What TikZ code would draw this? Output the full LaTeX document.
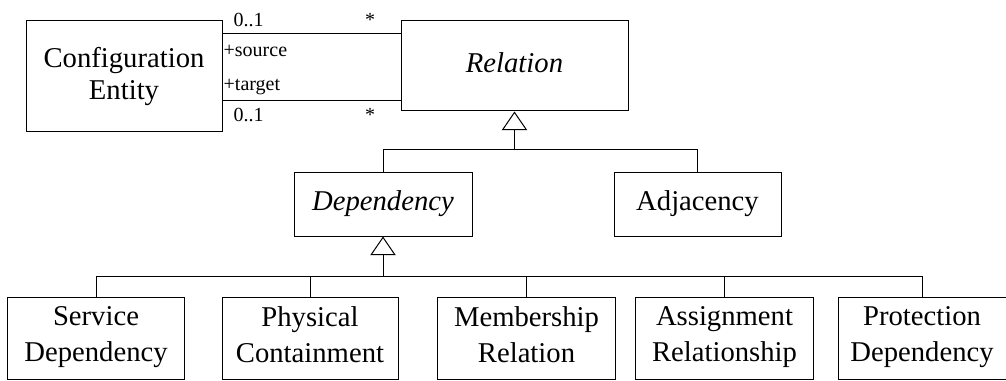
\documentclass[tikz,border=0pt]{standalone}
\usepackage{fontspec}
\setmainfont{Liberation Serif}
\usetikzlibrary{arrows.meta,positioning}

\newcommand{\boxstrut}{\rule[-0.25em]{0pt}{0.912em}}

\begin{document}
\begin{tikzpicture}[
    x=0.75pt, y=-0.75pt,
    cls/.style={draw, line width=0.75pt, align=center, inner sep=0pt, minimum height=47.25pt,
        font=\rmfamily\fontsize{21.5}{24}\selectfont, execute at begin node=\boxstrut, execute at end node=\boxstrut},
    leaf/.style={cls, minimum width=133pt, minimum height=61.5pt, font=\rmfamily\fontsize{21.5}{27}\selectfont},
    lbl/.style={font=\rmfamily\fontsize{15}{17}\selectfont, inner sep=5pt},
    line/.style={line width=0.75pt},
    gen/.style={line width=0.75pt, -{Triangle[length=14pt, width=19pt, fill=white]}}
]
\useasboundingbox (0,0) rectangle (1006,381);

\node[cls, minimum width=147pt, minimum height=83.25pt] (config) at (124,76.5) {Configuration\\Entity};
\node[cls, minimum width=170.25pt, minimum height=67.5pt] (relation) at (514.5,66) {\itshape Relation};
\node[cls, minimum width=133.5pt] (dep) at (383,204.5) {\itshape Dependency};
\node[cls, minimum width=125.25pt] (adj) at (697.5,204.5) {Adjacency};

\node[leaf] (service) at (96,338) {Service\\Dependency};
\node[leaf, minimum width=132pt] (physical) at (310,338) {Physical\\Containment};
\node[leaf] (member) at (526.5,338) {Membership\\Relation};
\node[leaf] (assign) at (724.5,338) {Assignment\\Relationship};
\node[leaf, minimum width=126pt] (protect) at (922,338) {Protection\\Dependency};

\draw[line] ([yshift=31.875pt]config.east) -- ([yshift=31.875pt]config.east -| relation.west)
    node[lbl, pos=0, above right, xshift=3pt] {0..1}
    node[lbl, pos=0.83, above] {*}
    node[lbl, pos=0, below right, inner xsep=0.5pt, yshift=-3pt] {+source};
\draw[line] ([yshift=-18.375pt]config.east) -- ([yshift=-18.375pt]config.east -| relation.west)
    node[lbl, pos=0, below right, xshift=3pt] {0..1}
    node[lbl, pos=0.83, below] {*}
    node[lbl, pos=0, above right, inner xsep=0.5pt, yshift=-1pt] {+target};

\coordinate (top) at (relation.south |- 0,150);
\draw[gen] (top) -- (relation.south);
\draw[line] (dep.north |- top) -- (adj.north |- top);
\foreach \n in {dep,adj}
    \draw[line] (\n.north) -- (\n.north |- top);

\coordinate (low) at (dep.south |- 0,276);
\draw[gen] (low) -- (dep.south);
\draw[line] (service.north |- low) -- (protect.north |- low);
\foreach \n in {service,physical,member,assign,protect}
    \draw[line] (\n.north) -- (\n.north |- low);
\end{tikzpicture}
\end{document}
